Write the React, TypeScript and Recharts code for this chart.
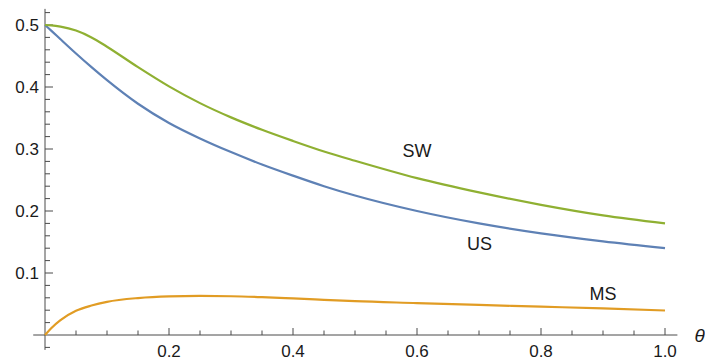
import React from "react";
import { LineChart, Line, XAxis, YAxis, ReferenceLine, ReferenceDot } from "recharts";

const THETA = [0, 0.01, 0.025, 0.05, 0.075, 0.1, 0.15, 0.2, 0.25, 0.3, 0.35, 0.4, 0.45, 0.5, 0.6, 0.7, 0.8, 0.9, 1.0];
const US = [0.5, 0.491, 0.477, 0.454, 0.432, 0.411, 0.373, 0.342, 0.317, 0.295, 0.275, 0.257, 0.24, 0.225, 0.2, 0.18, 0.164, 0.151, 0.14];
const SW = [0.5, 0.4995, 0.4975, 0.491, 0.48, 0.465, 0.432, 0.401, 0.374, 0.351, 0.331, 0.313, 0.296, 0.281, 0.253, 0.23, 0.21, 0.193, 0.18];
const MS = [0, 0.011, 0.024, 0.039, 0.0475, 0.0535, 0.0596, 0.0623, 0.063, 0.0625, 0.061, 0.059, 0.0568, 0.0545, 0.0515, 0.0485, 0.0457, 0.0428, 0.0395];

const X_TICKS = [0.2, 0.4, 0.6, 0.8, 1.0];
const X_MINOR = [0.05, 0.1, 0.15, 0.25, 0.3, 0.35, 0.45, 0.5, 0.55, 0.65, 0.7, 0.75, 0.85, 0.9, 0.95];
const Y_TICKS = [0.1, 0.2, 0.3, 0.4, 0.5];
const Y_MINOR = [-0.02, 0.02, 0.04, 0.06, 0.08, 0.12, 0.14, 0.16, 0.18, 0.22, 0.24, 0.26, 0.28, 0.32, 0.34, 0.36, 0.38, 0.42, 0.44, 0.46, 0.48, 0.52];

const CURVE_LABELS = [
  { text: "SW", x: 0.6, y: 0.298 },
  { text: "US", x: 0.701, y: 0.148 },
  { text: "MS", x: 0.9, y: 0.0677 },
];

const data = THETA.map((t, i) => ({ theta: t, us: US[i], sw: SW[i], ms: MS[i] }));

const W = 705;
const H = 361;
const PX = 620; // pixels per unit on both axes
const AXIS = "#4a4a4a";
const FONT = "'Liberation Sans', Arial, sans-serif";

const textAt = (value: string, dx: number, dy: number, anchor: string, size: number, italic = false) =>
  (p: any) => {
    const vb = p.viewBox || {};
    const cx = (vb.x ?? 0) + (vb.width ?? 0) / 2;
    const cy = (vb.y ?? 0) + (vb.height ?? 0) / 2;
    return (
      <text
        x={cx + dx}
        y={cy + dy}
        textAnchor={anchor}
        fontSize={size}
        fontFamily={FONT}
        fontStyle={italic ? "italic" : "normal"}
        fill="#1a1a1a"
      >
        {value}
      </text>
    );
  };

export default function App() {
  return (
    <div>
      <style>{"body{margin:0}"}</style>
      <LineChart width={W} height={H} data={data} margin={{ top: 0, right: 0, bottom: 0, left: 0 }}>
        <XAxis
          hide
          type="number"
          dataKey="theta"
          domain={[-45 / PX, (W - 45) / PX]}
          allowDataOverflow
        />
        <YAxis hide type="number" domain={[-(H - 335) / PX, 335 / PX]} allowDataOverflow />

        {/* axes */}
        <ReferenceLine
          segment={[{ x: -0.019, y: 0 }, { x: 1.02, y: 0 }]}
          stroke={AXIS}
          strokeWidth={1}
          ifOverflow="visible"
        />
        <ReferenceLine
          segment={[{ x: 0, y: -0.024 }, { x: 0, y: 0.526 }]}
          stroke={AXIS}
          strokeWidth={1}
          ifOverflow="visible"
        />

        {X_TICKS.map((v) => (
          <ReferenceLine
            key={`xt${v}`}
            segment={[{ x: v, y: 0 }, { x: v, y: 7 / PX }]}
            stroke={AXIS}
            ifOverflow="visible"
          />
        ))}
        {X_MINOR.map((v) => (
          <ReferenceLine
            key={`xm${v}`}
            segment={[{ x: v, y: 0 }, { x: v, y: 4.5 / PX }]}
            stroke={AXIS}
            ifOverflow="visible"
          />
        ))}
        {Y_TICKS.map((v) => (
          <ReferenceLine
            key={`yt${v}`}
            segment={[{ x: 0, y: v }, { x: 8 / PX, y: v }]}
            stroke={AXIS}
            ifOverflow="visible"
          />
        ))}
        {Y_MINOR.map((v) => (
          <ReferenceLine
            key={`ym${v}`}
            segment={[{ x: 0, y: v }, { x: 5 / PX, y: v }]}
            stroke={AXIS}
            ifOverflow="visible"
          />
        ))}

        <Line type="monotone" dataKey="ms" stroke="#E19C24" strokeWidth={2.2} dot={false} activeDot={false} isAnimationActive={false} />
        <Line type="monotone" dataKey="us" stroke="#5E81B5" strokeWidth={2.2} dot={false} activeDot={false} isAnimationActive={false} />
        <Line type="monotone" dataKey="sw" stroke="#8FB032" strokeWidth={2.2} dot={false} activeDot={false} isAnimationActive={false} />

        {X_TICKS.map((v) => (
          <ReferenceDot
            key={`xl${v}`}
            x={v}
            y={0}
            r={0}
            fill="none"
            stroke="none"
            ifOverflow="visible"
            label={textAt(v.toFixed(1), 0, 22, "middle", 17)}
          />
        ))}
        {Y_TICKS.map((v) => (
          <ReferenceDot
            key={`yl${v}`}
            x={0}
            y={v}
            r={0}
            fill="none"
            stroke="none"
            ifOverflow="visible"
            label={textAt(v.toFixed(1), -6, 6, "end", 17)}
          />
        ))}
        {CURVE_LABELS.map((c) => (
          <ReferenceDot
            key={c.text}
            x={c.x}
            y={c.y}
            r={0}
            fill="none"
            stroke="none"
            ifOverflow="visible"
            label={textAt(c.text, 0, 6.5, "middle", 18)}
          />
        ))}
        <ReferenceDot
          x={1.056}
          y={0}
          r={0}
          fill="none"
          stroke="none"
          ifOverflow="visible"
          label={textAt("θ", 0, 7, "middle", 19, true)}
        />
      </LineChart>
    </div>
  );
}
